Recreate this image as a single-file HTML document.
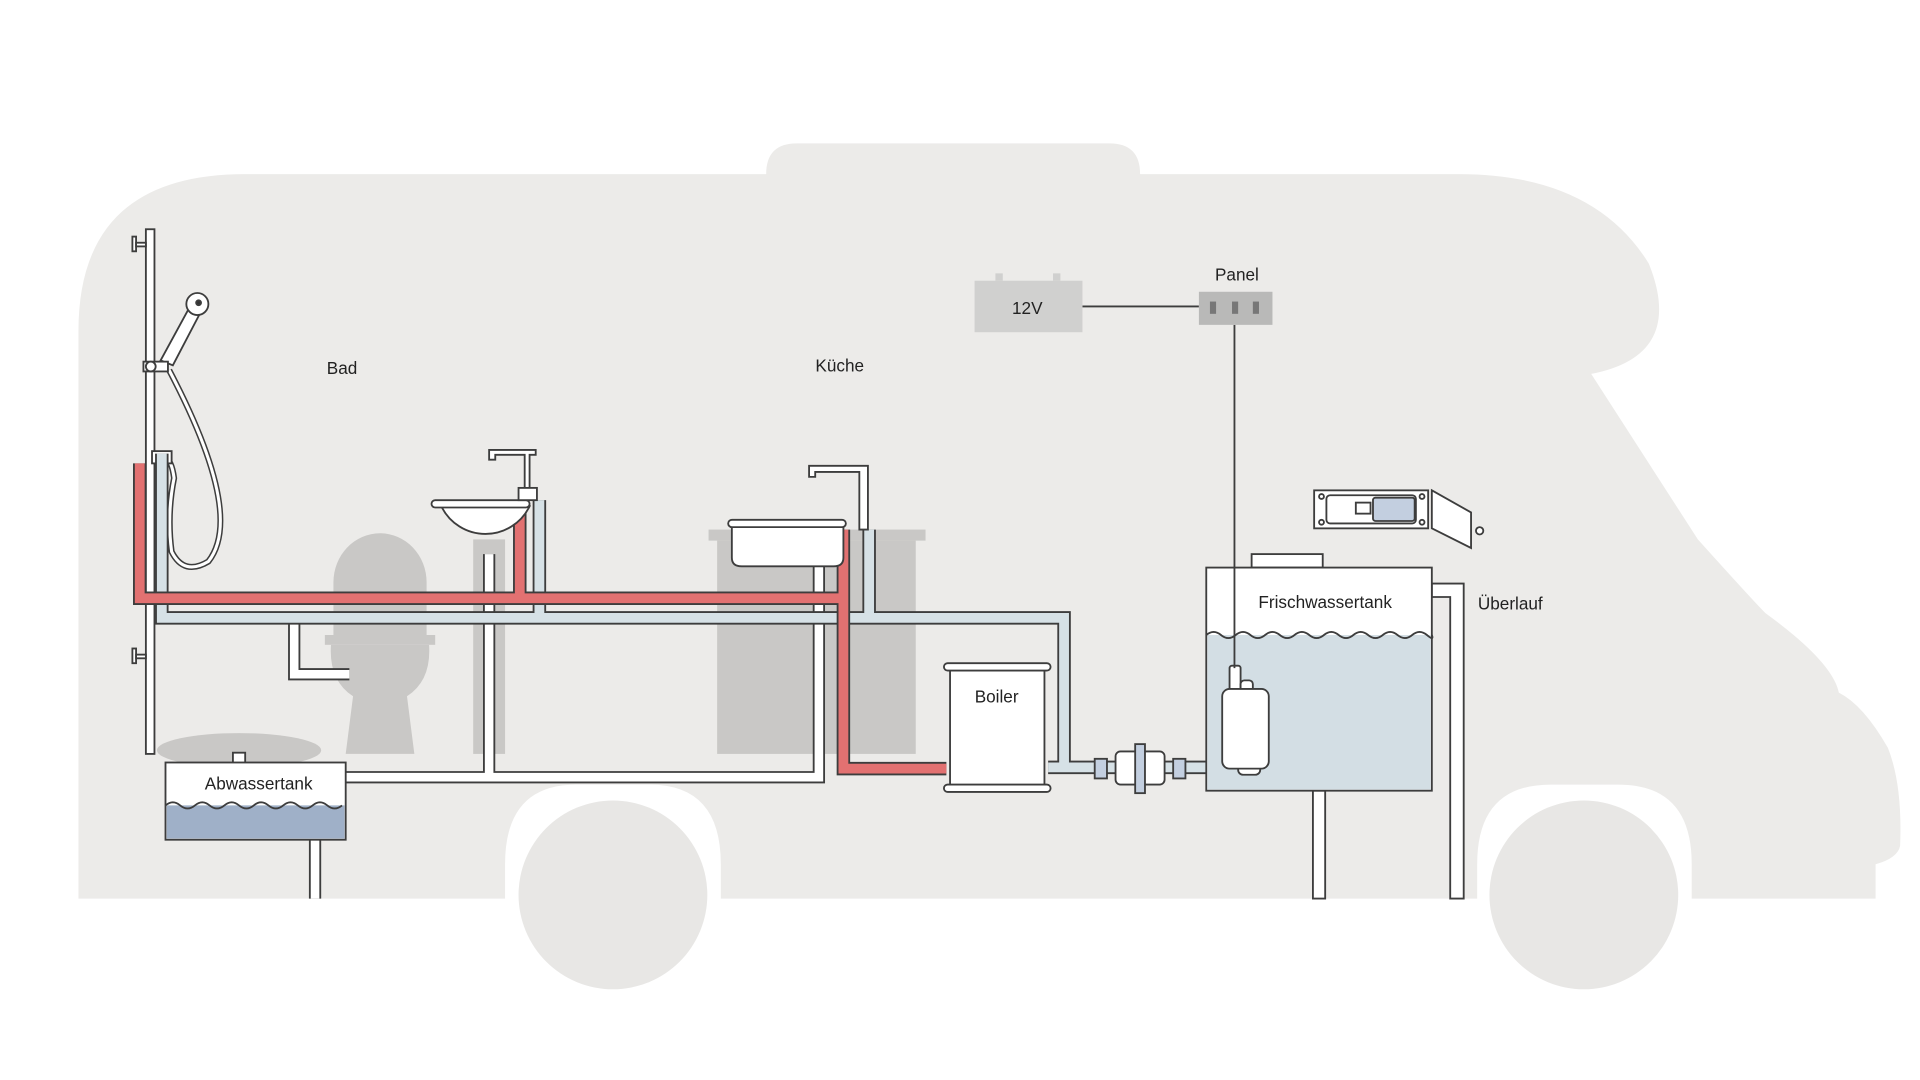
<!DOCTYPE html>
<html><head><meta charset="utf-8"><style>html,body{margin:0;padding:0;background:#fff;overflow:hidden}svg{display:block}text{font-family:"Liberation Sans",sans-serif;fill:#222}</style></head><body>
<svg width="1920" height="1080" viewBox="0 0 1566 881" preserveAspectRatio="xMinYMin meet" xmlns="http://www.w3.org/2000/svg">
<rect width="1566" height="881" fill="#fff"/>
<path d="M64,733 V270 Q64,142 200,142 H625 Q625,117 650,117 H905 Q930,117 930,142 H1190 Q1300,142 1345,215 Q1375,290 1298,305 L1385,440 Q1430,490 1440,500 Q1495,540 1500,565 Q1520,575 1540,610 Q1552,640 1550,690 Q1548,700 1530,705 V733 H1380 V705 Q1380,640 1320,640 H1265 Q1205,640 1205,705 V733 H588 V705 Q588,640 530,640 H470 Q412,640 412,705 V733 Z" fill="#ecebe9"/>
<circle cx="500" cy="730" r="77" fill="#e8e7e5"/>
<circle cx="1292" cy="730" r="77" fill="#e8e7e5"/>
<g fill="#c9c8c6">
<ellipse cx="195" cy="612" rx="67" ry="14"/>
<path d="M272,475 A38,40 0 0 1 348,475 V518 H272Z"/>
<rect x="265" y="518" width="90" height="8"/>
<path d="M270,526 H350 Q352,555 332,568 L338,615 H282 L288,568 Q268,555 270,526Z"/>
<rect x="386" y="440" width="26" height="175"/>
<rect x="578" y="432" width="177" height="9"/>
<rect x="585" y="441" width="162" height="174"/>
</g>
<g stroke="#3d3d3d" stroke-width="1.5" fill="#fff">
<rect x="119" y="187" width="7" height="428"/>
<rect x="108" y="193" width="3" height="12"/><rect x="111" y="198" width="8" height="3"/>
<rect x="108" y="529" width="3" height="12"/><rect x="111" y="534" width="8" height="3"/>
<path d="M138,302 Q200,420 170,458 Q150,470 140,450 Q136,420 142,390 Q140,375 135,374" fill="none" stroke-width="5" stroke="#3d3d3d"/>
<path d="M138,302 Q200,420 170,458 Q150,470 140,450 Q136,420 142,390 Q140,375 135,374" fill="none" stroke-width="2.5" stroke="#fff"/>
<path d="M131,294 L155,250 L164,254 L141,298Z"/>
<circle cx="161" cy="248" r="9"/><circle cx="162" cy="247" r="2" fill="#333"/>
<rect x="117" y="295" width="20" height="8"/><circle cx="123" cy="299" r="4"/>
<rect x="124" y="368" width="16" height="10"/>
</g>
<g fill="none" stroke-linejoin="miter">
<path d="M240,505 V550 H285 M399,452 V634 H282 M399,634 H668 V462 M257,685 V733" stroke="#3d3d3d" stroke-width="10"/>
<path d="M240,505 V550 H285 M399,452 V634 H282 M399,634 H668 V462 M257,685 V733" stroke="#fff" stroke-width="7"/>
<path d="M132,370 V504 H868 V626 H910 M440,408 V504 M709,432 V504 M855,626 H870 M950,626 H985" stroke="#3d3d3d" stroke-width="11"/>
<path d="M132,370 V504 H868 V626 H910 M440,408 V504 M709,432 V504 M855,626 H870 M950,626 H985" stroke="#d6e1e6" stroke-width="8"/>
<path d="M114,378 V488 H688 M424,408 V488 M688,432 V627 H772" stroke="#3d3d3d" stroke-width="11"/>
<path d="M114,378 V488 H688 M424,408 V488 M688,432 V627 H772" stroke="#e27171" stroke-width="8"/>
</g>
<g stroke="#3d3d3d" stroke-width="1.5" fill="#fff">
<path d="M360,413 A40,40 0 0 0 432,413Z"/>
<rect x="352" y="408" width="80" height="6" rx="3"/>
<path d="M399,367 H437 V371 H432 V400 H428 V371 H404 V375 H399Z"/>
<rect x="423" y="398" width="15" height="10"/>
<path d="M597,428 H688 V455 Q688,462 680,462 H605 Q597,462 597,455Z"/>
<rect x="594" y="424" width="96" height="6" rx="3"/>
<path d="M660,380 H708 V432 H701 V385 H665 V389 H660Z"/>
<rect x="775" y="544" width="77" height="99"/>
<rect x="770" y="541" width="87" height="6" rx="3"/>
<rect x="770" y="640" width="87" height="6" rx="3"/>
<rect x="893" y="619" width="10" height="16" fill="#c3cfe0"/>
<rect x="957" y="619" width="10" height="16" fill="#c3cfe0"/>
<rect x="910" y="613" width="40" height="27" rx="4"/>
<rect x="926" y="607" width="8" height="40" fill="#c3cfe0"/>
<rect x="190" y="614" width="10" height="9"/>
<rect x="135" y="622" width="147" height="63"/>
<path d="M136,657 H281 V684 H136Z" fill="#9fb0c8" stroke="none"/>
<path d="M135,657 q6,-5 12,0 t12,0 t12,0 t12,0 t12,0 t12,0 t12,0 t12,0 t12,0 t12,0 t12,0 t12,0" fill="none"/>
<rect x="1071" y="645" width="10" height="88"/>
<path d="M1168,476 H1194 V733 H1183 V487 H1168Z"/>
<rect x="1021" y="452" width="58" height="11"/>
<rect x="984" y="463" width="184" height="182"/>
<rect x="985" y="518" width="182" height="126" fill="#d3dee4" stroke="none"/>
<path d="M984,518 q6,-5 12,0 t12,0 t12,0 t12,0 t12,0 t12,0 t12,0 t12,0 t12,0 t12,0 t12,0 t12,0 t12,0 t12,0 t12,0 t4,0" fill="none"/>
<rect x="1003" y="543" width="9" height="22" rx="2"/>
<rect x="1012" y="555" width="10" height="10" rx="3"/>
<rect x="1010" y="622" width="18" height="10" rx="4"/>
<rect x="997" y="562" width="38" height="65" rx="6"/>
<rect x="1072" y="400" width="93" height="31"/>
<rect x="1082" y="404" width="73" height="23" rx="3"/>
<rect x="1120" y="406" width="34" height="19" rx="2" fill="#c3cfe0"/>
<rect x="1106" y="410" width="12" height="9"/>
<path d="M1168,400 L1200,418 V447 L1168,431Z"/>
<circle cx="1207" cy="433" r="3"/>
<circle cx="1078" cy="405" r="2"/><circle cx="1078" cy="426" r="2"/><circle cx="1160" cy="405" r="2"/><circle cx="1160" cy="426" r="2"/>
</g>
<line x1="883" y1="250" x2="978" y2="250" stroke="#3d3d3d" stroke-width="1.5"/>
<line x1="1007" y1="265" x2="1007" y2="545" stroke="#3d3d3d" stroke-width="1.5"/>
<rect x="795" y="229" width="88" height="42" fill="#d0d0cf"/>
<rect x="812" y="223" width="6" height="6" fill="#d0d0cf"/><rect x="859" y="223" width="6" height="6" fill="#d0d0cf"/>
<rect x="978" y="238" width="60" height="27" fill="#b9b9b8"/>
<rect x="987" y="246" width="5" height="10" fill="#777"/><rect x="1005" y="246" width="5" height="10" fill="#777"/><rect x="1022" y="246" width="5" height="10" fill="#777"/>
<g font-size="14" text-anchor="middle">
<text x="279" y="305">Bad</text>
<text x="685" y="303">Küche</text>
<text x="838" y="256">12V</text>
<text x="1009" y="229">Panel</text>
<text x="813" y="573">Boiler</text>
<text x="211" y="644">Abwassertank</text>
<text x="1081" y="496">Frischwassertank</text>
<text x="1232" y="497">Überlauf</text>
</g>
</svg>
</body></html>
